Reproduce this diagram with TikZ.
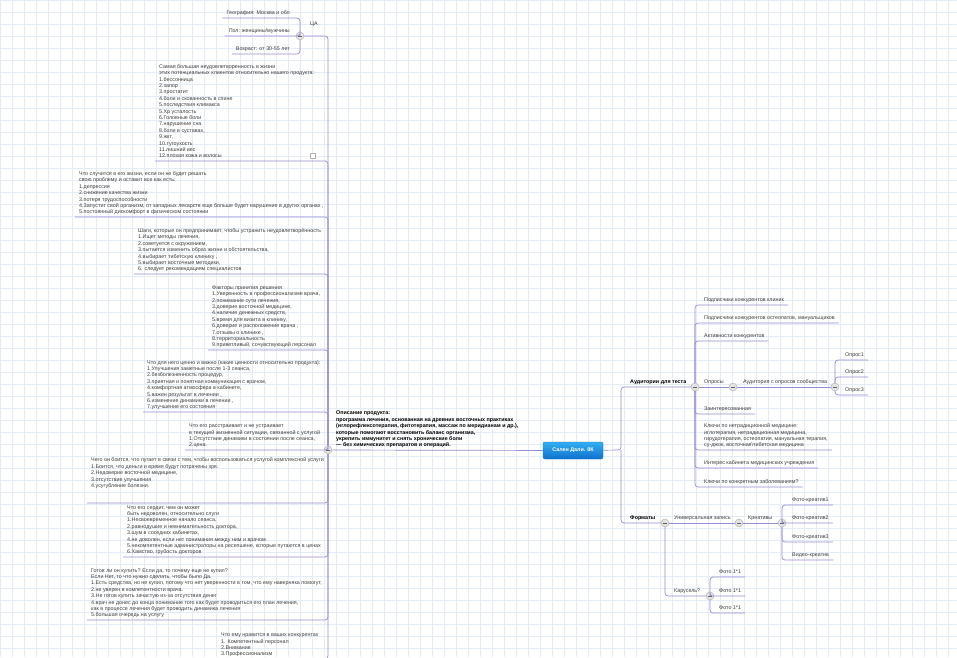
\documentclass[tikz,border=0pt]{standalone}
\usepackage{fontspec}
\setmainfont{Liberation Sans}
\usepackage{tikz}
\usetikzlibrary{positioning, calc}
\definecolor{mmline}{RGB}{150,140,212}
\definecolor{gridc}{RGB}{228,236,247}
\definecolor{txtc}{RGB}{60,60,60}
\definecolor{hubtop}{RGB}{50,175,242}
\definecolor{hubbot}{RGB}{15,112,205}

\begin{document}
\begin{tikzpicture}[x=1pt, y=-1pt,
  txt/.style={inner xsep=4pt, inner ysep=2pt, text depth=1pt, align=left,
              text=txtc, font=\fontsize{5.35}{6.4}\selectfont},
  bld/.style={txt, text=black, font=\fontsize{5.35}{6.4}\selectfont\bfseries},
  btn/.style={circle, draw=gray!65, fill=gray!22, minimum size=8pt,
              inner sep=0pt,
              path picture={\draw[gray!75!black, line width=0.6pt]
                ([xshift=-2pt]path picture bounding box.center) --
                ([xshift=2pt]path picture bounding box.center);}},
  hub/.style={rectangle, rounded corners=2pt, top color=hubtop,
              bottom color=hubbot, draw=hubbot, text=white,
              minimum width=60pt, minimum height=17pt,
              font=\fontsize{5.35}{6.4}\selectfont\bfseries},
  conn/.style={draw=mmline, line width=0.7pt, rounded corners=3pt}
]
\useasboundingbox (0,0) rectangle (957,657);
\clip (0,0) rectangle (957,657);
% background grid
\foreach \gx in {0,12,...,960}{
  \draw[gridc, line width=0.4pt] (\gx,0) -- (\gx,657);
}
\foreach \gy in {0,12,...,660}{
  \draw[gridc, line width=0.4pt] (0,\gy) -- (957,\gy);
}

% center and main branches
\node[hub] (hub) at (573,450.5) {Сален Дали. 8К};
\node[btn] (descbtn) at (328,450) {};
\node[bld, anchor=south west] (desc) at (332,450) {Описание продукта:\\
программа лечения, основанная на древних восточных практиках\\
(иглорефлексотерапия, фитотерапия, массаж по меридианам и др.),\\
которые помогают восстановить баланс организма,\\
укрепить иммунитет и снять хронические боли\\
— без химических препаратов и операций.};
\draw[conn] (hub) -- (descbtn);

% left side
\node[btn] (cabtn) at (300,36) {};
\node[txt] (ca) at (314,24) {ЦА};
\node[txt, anchor=south east] (geo) at (294,18) {География: Москва и обл};
\node[txt, anchor=south east] (pol) at (294,36) {Пол: женщины/мужчины};
\node[txt, anchor=south east] (age) at (294,54) {Возраст: от 30-55 лет};
\draw[conn] (descbtn) |- (cabtn);
\foreach \n in {geo,pol,age}{
  \draw[conn] (cabtn) |- (\n.south west);
}

\node[txt, anchor=south west] (pain) at (155,161) {Самая большая неудовлетворенность в жизни\\
этих потенциальных клиентов относительно нашего продукта:\\
1.бессонница\\
2.запор\\
3.простатит\\
4.боли и скованность в спине\\
5.последствия климакса\\
5.Хр усталость\\
6.Головные боли\\
7.нарушение сна\\
8.боли в суставах,\\
9.жкт,\\
10.тугоухость\\
11.лишний вес\\
12.плохая кожа и волосы};
\node[draw=gray!60, fill=white, minimum size=5pt, inner sep=0pt] (note) at (313,156) {};

\node[txt, anchor=south west] (future) at (75,217) {Что случится в его жизни, если он не будет решать\\
свою проблему и оставит все как есть:\\
1.депрессия\\
2.снижение качества жизни\\
3.потеря трудоспособности\\
4.Запустит свой организм, от западных лекарств еще больше будет нарушение в других органах ,\\
5.постоянный дискомфорт в физическом состоянии};

\node[txt, anchor=south west] (steps) at (134,274) {Шаги, которые он предпринимает, чтобы устранить неудовлетворённость\\
1.Ищет методы лечения,\\
2.советуется с окружением,\\
3.пытается изменить образ жизни и обстоятельства,\\
4.выбирает тибетскую клинику ,\\
5.выбирает восточные методики,\\
6. следует рекомендациям специалистов};

\node[txt, anchor=south west] (factors) at (208,350) {Факторы принятия решения\\
1.Уверенность в профессионализме врача,\\
2.понимание сути лечения,\\
3.доверие восточной медицине,\\
4.наличие денежных средств,\\
5.время для визита в клинику,\\
6.доверие и расположение врача ,\\
7.отзывы о клинике ,\\
8.территориальность\\
9.приветливый, сочувствующий персонал};

\node[txt, anchor=south west] (values) at (143,412) {Что для него ценно и важно (какие ценности относительно продукта):\\
1.Улучшения заметные после 1-3 сеанса,\\
2.безболезненность процедур,\\
3.приятная и понятная коммуникация с врачом,\\
4.комфортная атмосфера в кабинете,\\
5.важен результат в лечении ,\\
6.изменение динамики в лечении ,\\
7.улучшение его состояния};

\node[txt, anchor=south west] (upset) at (185,450) {Что его расстраивает и не устраивает\\
в текущей жизненной ситуации, связанной с услугой\\
1.Отсутствие динамики в состоянии после сеанса,\\
2.цена.};

\node[txt, anchor=south west] (fear) at (87,503) {Чего он боится, что пугает в связи с тем, чтобы воспользоваться услугой комплексной услуги\\
1.Боится, что деньги и время будут потрачены зря.\\
2.Недоверие восточной медицине,\\
3.отсутствие улучшения\\
4.усугубление болезни.\\[6pt]};

\node[txt, anchor=south west] (anger) at (123,557) {Что его сердит, чем он может\\
быть недоволен, относительно слуги\\
1.Несвоевременное начало сеанса,\\
2.равнодушие и невнимательность доктора,\\
3.шум в соседних кабинетах,\\
4.не доволен, если нет понимания между ним и врачом\\
5.некомпетентные администраторы на ресепшене, которые путаются в ценах\\
6.Хамство, грубость докторов};

\node[txt, anchor=south west] (ready) at (87,620) {Готов ли он купить? Если да, то почему еще не купил?\\
Если Нет, то что нужно сделать, чтобы было Да.\\
1.Есть средства, но не купил, потому что нет уверенности в том, что ему наверняка помогут,\\
2.не уверен в компетентности врача.\\
3.Не готов купить зачастую из-за отсутствия денег\\
4.врач не донес до конца понимание того как будет проводиться его план лечения,\\
как в процессе лечения будет проводить динамика лечения\\
5.большая очередь на услугу};

\node[txt, anchor=south west] (likes) at (217,659) {Что ему нравится в ваших конкурентах\\
1. Компетентный персонал\\
2.Внимание\\
3.Профессионализм};

\foreach \n in {pain,future,steps,factors,values,upset,fear,anger,ready,likes}{
  \draw[conn] (descbtn) |- (\n.south west);
}

% right side
\coordinate (rfork) at (621,450);
\node[btn] (audbtn) at (695,387) {};
\node[bld, anchor=south west] (aud) at (626,387) {Аудитории для теста};
\draw[conn] (hub) -- (rfork) |- (audbtn);

\node[txt, anchor=south west] (sub1) at (700,305) {Подписчики конкурентов клиник};
\node[txt, anchor=south west] (sub2) at (700,323) {Подписчики конкурентов остеопатов, мануальщиков};
\node[txt, anchor=south west] (activ) at (700,341) {Активности конкурентов};
\node[txt, anchor=south west] (inter) at (700,414) {Заинтересованная};
\node[txt, anchor=south west] (keys1) at (700,450) {Ключи по нетрадиционной медицине:\\
иглотерапия, нетрадиционная медицина,\\
гирудотерапия, остеопатия, мануальная терапия,\\
су-джок, восточная\textbackslash тибетская медицина};
\node[txt, anchor=south west] (cabint) at (700,468) {Интерес кабинета медицинских учреждения};
\node[txt, anchor=south west] (keys2) at (700,487) {Ключи по конкретным заболеваниям?};
\foreach \n in {sub1,sub2,activ,inter,keys1,cabint,keys2}{
  \draw[conn] (audbtn) |- (\n.south east);
}

\node[btn] (oprbtn) at (733,387) {};
\node[txt, anchor=south west] (opr) at (700,387) {Опросы};
\draw[conn] (audbtn) -- (oprbtn);
\node[btn] (asobtn) at (835,387) {};
\node[txt, anchor=south west] (aso) at (739,387) {Аудитория с опросов сообщества};
\draw[conn] (oprbtn) -- (asobtn);
\foreach \i/\y in {1/360,2/377,3/395}{
  \node[txt, anchor=south west] (q\i) at (841,\y) {Опрос\i};
  \draw[conn] (asobtn) |- (q\i.south east);
}

\node[btn] (fmtbtn) at (665,523) {};
\node[bld, anchor=south west] (fmt) at (626,523) {Форматы};
\draw[conn] (rfork) |- (fmtbtn);

\node[btn] (unibtn) at (739,523) {};
\node[txt, anchor=south west] (uni) at (670,523) {Универсальная запись};
\draw[conn] (fmtbtn) -- (unibtn);
\node[btn] (crebtn) at (782,523) {};
\node[txt, anchor=south west] (cre) at (744,523) {Креативы};
\draw[conn] (unibtn) -- (crebtn);
\foreach \i/\y/\lbl in {1/505/Фото-креатив1, 2/523/Фото-креатив2,
                        3/542/Фото-креатив3, 4/560/Видео-креатив}{
  \node[txt, anchor=south west] (k\i) at (788,\y) {\lbl};
  \draw[conn] (crebtn) |- (k\i.south east);
}

\node[btn] (carbtn) at (710,596) {};
\node[txt, anchor=south west] (car) at (670,596) {Карусель?};
\draw[conn] (fmtbtn) |- (carbtn);
\foreach \i/\y in {1/577,2/596,3/613}{
  \node[txt, anchor=south west] (f\i) at (715,\y) {Фото 1*1};
  \draw[conn] (carbtn) |- (f\i.south east);
}
\end{tikzpicture}
\end{document}
